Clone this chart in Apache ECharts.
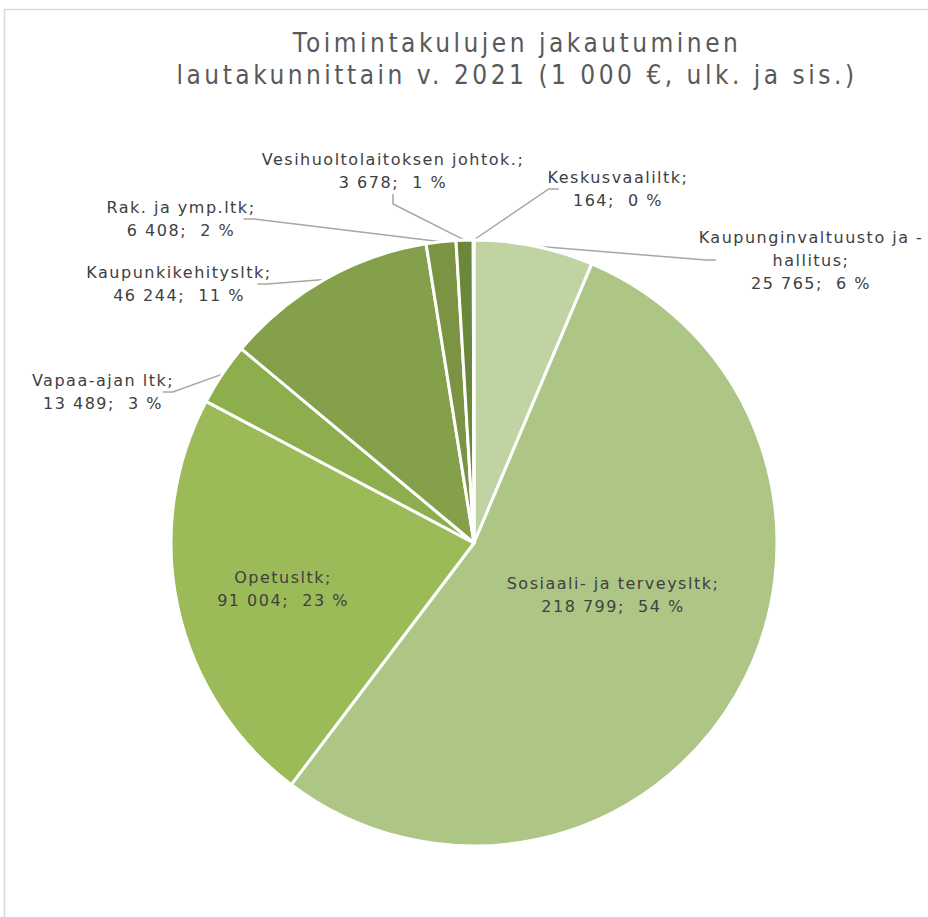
<!DOCTYPE html>
<html>
<head>
<meta charset="utf-8">
<script src="https://cdn.jsdelivr.net/npm/echarts@6/dist/echarts.min.js"></script>
<style>
html,body{margin:0;padding:0;background:#fff;}
#c{width:928px;height:917px;}
#c svg text[style*="16px"]{letter-spacing:1.5px;}
#c svg text[style*="26px"]{letter-spacing:3.5px;}
</style>
</head>
<body>
<div id="c"></div>
<script>
const titleText = 'Toimintakulujen jakautuminen\nlautakunnittain v. 2021 (1 000 €, ulk. ja sis.)';
const categories = ['Kaupunginvaltuusto ja -\nhallitus', 'Sosiaali- ja terveysltk', 'Opetusltk', 'Vapaa-ajan ltk', 'Kaupunkikehitysltk', 'Rak. ja ymp.ltk', 'Vesihuoltolaitoksen johtok.', 'Keskusvaaliltk'];
const values = [25765, 218799, 91004, 13489, 46244, 6408, 3678, 164];
const percentLabels = [6, 54, 23, 3, 11, 2, 1, 0];
const colors = ['#c0d4a3', '#adc686', '#9bbb59', '#8cae4c', '#84a04b', '#7a9443', '#6b873a', '#5e7a32'];
const insideIdx = [1, 2];
const labelPos = [[811, 260], [613, 595], [283, 589], [103, 392], [179, 284], [181, 219], [393, 171], [618, 189]];

function fmt(v) { return String(v).replace(/\B(?=(\d{3})+(?!\d))/g, ' '); }

const chart = echarts.init(document.getElementById('c'), null, { renderer: 'svg' });
const data = categories.map((n, i) => ({
  name: n,
  value: values[i],
  itemStyle: { color: colors[i] },
  label: insideIdx.includes(i) ? { position: 'inside' } : { position: 'outside' },
  labelLine: { show: !insideIdx.includes(i) }
}));

chart.setOption({
  animation: false,
  title: {
    text: titleText,
    left: 512, top: 22, textAlign: 'center',
    textStyle: { fontFamily: 'DejaVu Sans Condensed', fontSize: 26, fontWeight: 'normal', color: '#595959', lineHeight: 32 }
  },
  graphic: [{
    type: 'polyline',
    shape: { points: [[4.5, 917], [4.5, 9.5], [928, 9.5]] },
    style: { stroke: '#d9d9d9', lineWidth: 1.5, fill: null }
  }],
  series: [{
    type: 'pie',
    center: [474, 543],
    radius: [0, 303],
    startAngle: 90,
    clockwise: true,
    avoidLabelOverlap: false,
    itemStyle: { borderColor: '#ffffff', borderWidth: 3 },
    label: {
      show: true,
      fontFamily: 'DejaVu Sans',
      fontSize: 16,
      color: '#404040',
      lineHeight: 23,
      align: 'center',
      formatter: p => p.name + ';\n' + fmt(p.value) + ';  ' + percentLabels[p.dataIndex] + ' %'
    },
    labelLine: { show: true, length: 15, length2: 10, lineStyle: { color: '#a6a6a6', width: 1.5 } },
    labelLayout: p => ({ x: labelPos[p.dataIndex][0], y: labelPos[p.dataIndex][1], align: 'center', verticalAlign: 'middle' }),
    emphasis: { disabled: true },
    data: data
  }]
});
</script>
</body>
</html>
